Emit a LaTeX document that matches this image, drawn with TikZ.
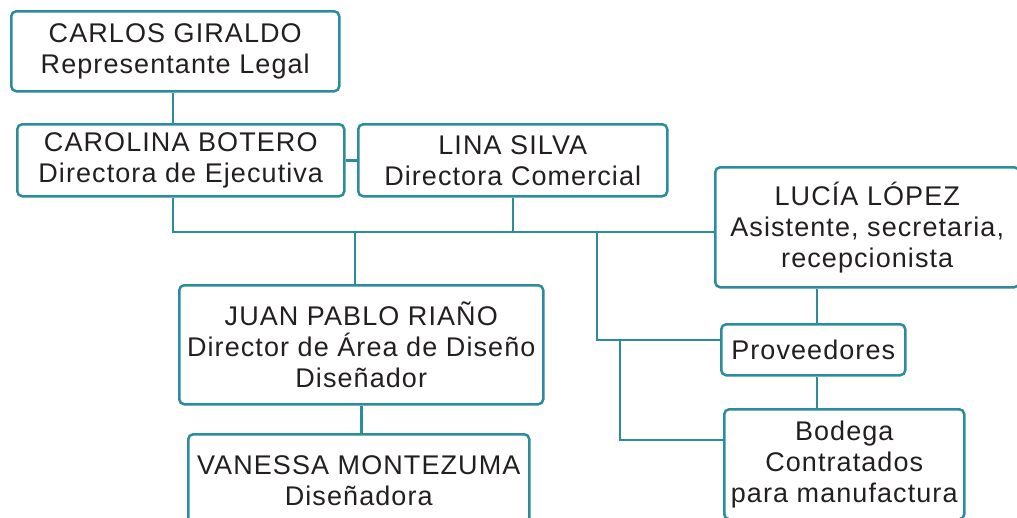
\documentclass[tikz,border=0pt]{standalone}
\usepackage{fontspec}
\setmainfont[LetterSpace=4]{Liberation Sans}
\usetikzlibrary{positioning}
\definecolor{orgline}{HTML}{2B8C9B}
\definecolor{orgtext}{HTML}{231F20}
\tikzset{cargo/.style={draw=orgline,line width=2.5pt,rounded corners=5pt,anchor=north west,align=center,inner sep=0pt,text=orgtext,font=\fontsize{27}{31}\selectfont},
	enlace/.style={draw=orgline,line width=2.5pt}}

\begin{document}
\begin{tikzpicture}[x=1pt,y=-1pt]
	\useasboundingbox (0,0) rectangle (1017,517);
	\node[cargo,minimum width=328pt,minimum height=80pt] (carlos) at (10,10) {CARLOS GIRALDO\\Representante Legal};
	\node[cargo,minimum width=327pt,minimum height=72pt] (carolina) at (16,123) {CAROLINA BOTERO\\Directora de Ejecutiva};
	\node[cargo,minimum width=309pt,minimum height=72pt] (lina) at (357,123) {LINA SILVA\\Directora Comercial};
	\node[cargo,minimum width=304pt,minimum height=120pt] (lucia) at (714,166) {LUCÍA LÓPEZ\\Asistente, secretaria,\\recepcionista};
	\node[cargo,minimum width=364pt,minimum height=119pt] (juan) at (178,284) {JUAN PABLO RIAÑO\\Director de Área de Diseño\\Diseñador};
	\node[cargo,minimum width=341pt,minimum height=92pt] (vanessa) at (187,433) {VANESSA MONTEZUMA\\Diseñadora};
	\node[cargo,minimum width=184pt,minimum height=51pt] (proveedores) at (720,323) {Proveedores};
	\node[cargo,minimum width=240pt,minimum height=110pt] (bodega) at (723,408) {Bodega\\Contratados\\para manufactura};
	\coordinate (bus) at (173,232);
	\coordinate (rama) at (597,232);
	\coordinate (codo) at (620,340);
	\coordinate (codob) at (620,440);
	\coordinate (eje) at (817,0);
	\draw[enlace] (carlos.south -| bus) -- (carolina.north -| bus);
	\draw[enlace] (carolina.east) -- (lina.west);
	\draw[enlace] (carolina.south -| bus) -- (bus) -- (bus -| lucia.west);
	\draw[enlace] (lina.south) -- (lina.south |- bus);
	\draw[enlace] (juan.north -| 355,0) -- (bus -| 355,0);
	\draw[enlace] (rama) |- (codo) -- (codo -| proveedores.west);
	\draw[enlace] (codo) -- (codob) -- (codob -| bodega.west);
	\draw[enlace] (lucia.south -| eje) -- (proveedores.north -| eje);
	\draw[enlace] (proveedores.south -| eje) -- (bodega.north -| eje);
	\draw[enlace] (juan.south) -- (vanessa.north -| juan.south);
\end{tikzpicture}
\end{document}
